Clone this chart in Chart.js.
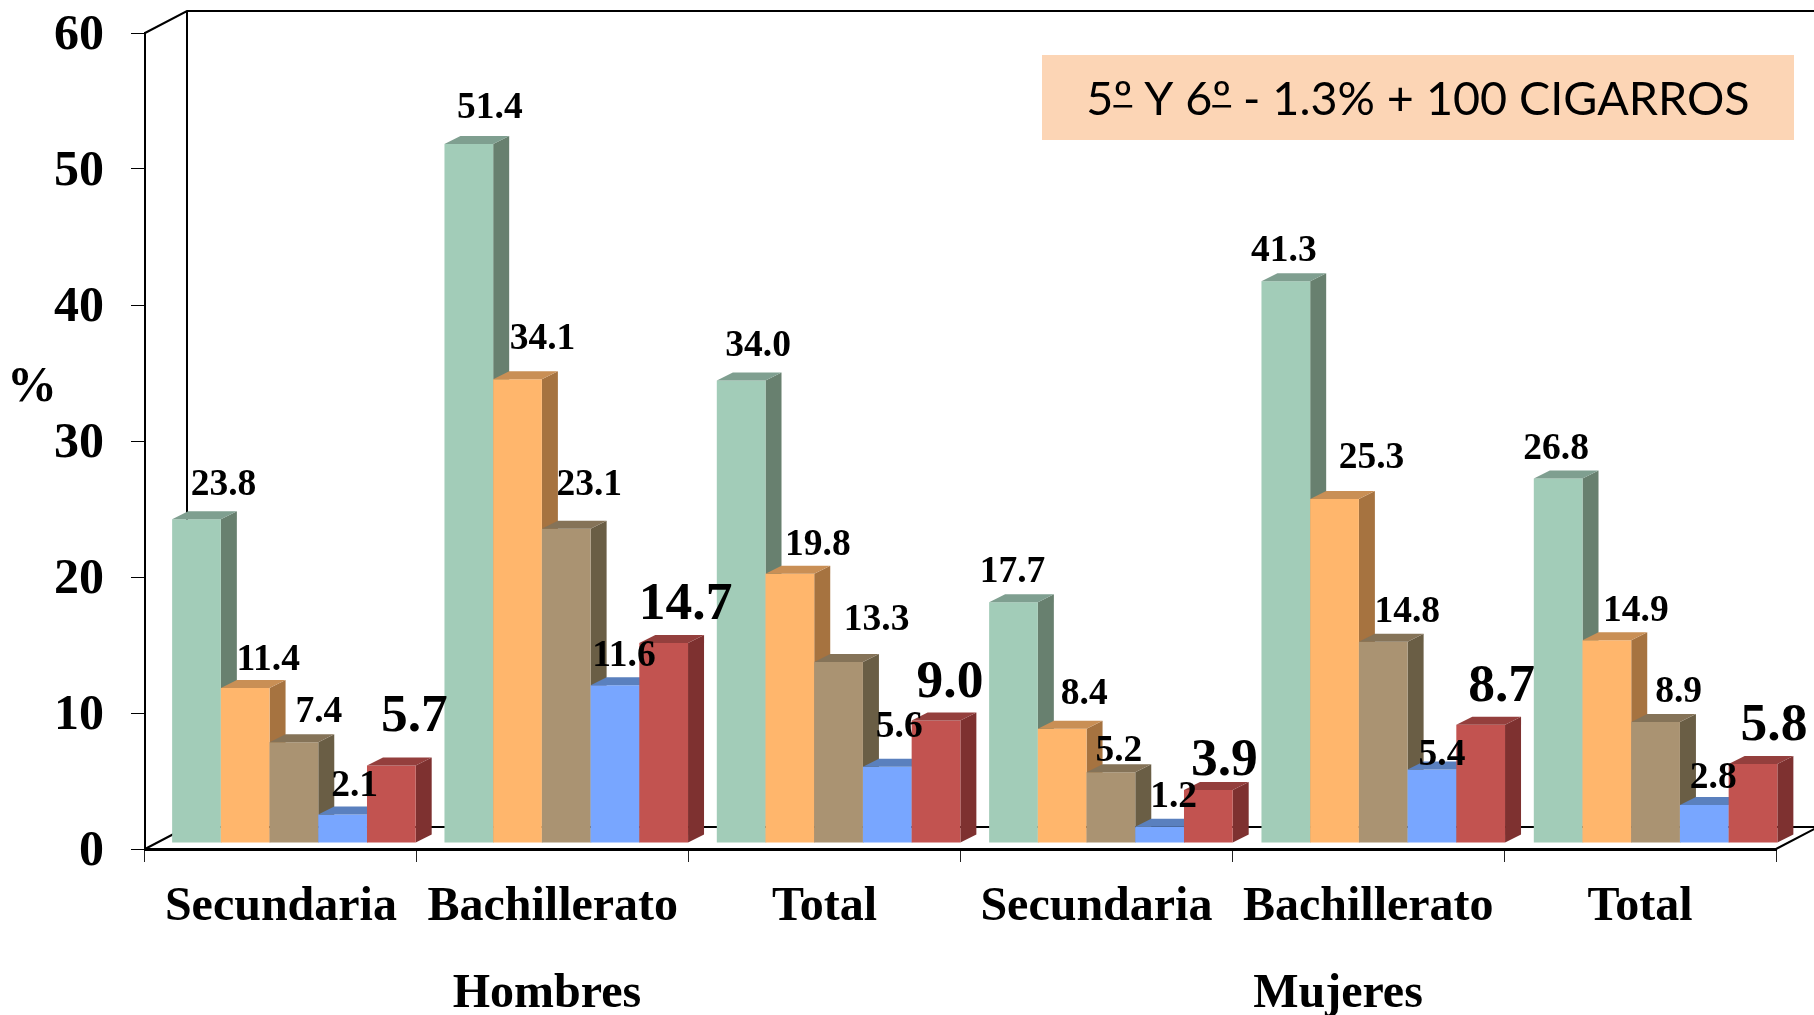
<!DOCTYPE html>
<html>
<head>
<meta charset="utf-8">
<script src="https://cdn.jsdelivr.net/npm/chart.js@4"></script>
<style>
    html, body { margin: 0; padding: 0; background: #fff; overflow: hidden; }
    canvas { display: block; }
</style>
</head>
<body>
<canvas id="chart" width="1814" height="1015"></canvas>
<script>
// Chart data
const categories = ['Secundaria', 'Bachillerato', 'Total', 'Secundaria', 'Bachillerato', 'Total'];
const yTicks = [0, 10, 20, 30, 40, 50, 60];
const seriesA = [23.8, 51.4, 34.0, 17.7, 41.3, 26.8];
const seriesB = [11.4, 34.1, 19.8, 8.4, 25.3, 14.9];
const seriesC = [7.4, 23.1, 13.3, 5.2, 14.8, 8.9];
const seriesD = [2.1, 11.6, 5.6, 1.2, 5.4, 2.8];
const seriesE = [5.7, 14.7, 9.0, 3.9, 8.7, 5.8];
const groupLabels = ['Hombres', 'Mujeres'];
const noteText = '5º Y 6º - 1.3% + 100 CIGARROS';

// front, top, side colour of each series
const colors = [
    ['#A2CCB8', '#7F9F90', '#68806F'],
    ['#FFB66C', '#C98F55', '#A67340'],
    ['#AA9372', '#857358', '#6A5E45'],
    ['#78A6FF', '#5A80BE', '#4F70AA'],
    ['#C25350', '#943F3D', '#7E3130']
];

// label offsets from the bar's top centre, the original labels were placed by hand
const labelOffsets = [
    [[27, -34], [21, -36], [17, -34], [-1, -30], [-2, -30], [-2, -29]],
    [[23, -28], [25, -40], [28, -28], [22, -34], [37, -41], [29, -29]],
    [[25, -30], [23, -44], [38, -42], [8, -21], [24, -29], [23, -30]],
    [[12, -28], [9, -29], [12, -40], [14, -29], [10, -14], [9, -27]],
    [[23, -48], [22, -38], [14, -37], [16, -29], [21, -38], [21, -38]]
];

const serif = '"Liberation Serif", "Times New Roman", serif';
const wallX = 42, wallY = 22;      // depth of the chart box
const barShiftX = 13, barShiftY = -6;  // bars stand inside the box
const sideX = 16, sideY = 8;       // depth of each bar

// groups drift a little to the right along the axis in the original
const shiftFor = i => barShiftX + i * 0.5;

function poly(ctx, color, pts) {
    ctx.fillStyle = color;
    ctx.beginPath();
    pts.forEach((p, i) => i ? ctx.lineTo(p[0], p[1]) : ctx.moveTo(p[0], p[1]));
    ctx.closePath();
    ctx.fill();
}

function drawWalls(chart) {
    const ctx = chart.ctx;
    const a = chart.chartArea;
    ctx.save();
    ctx.strokeStyle = '#000';
    ctx.lineWidth = 2;
    ctx.beginPath();
    ctx.moveTo(a.left, a.top);
    ctx.lineTo(a.left + wallX, a.top - wallY);
    ctx.lineTo(chart.width, a.top - wallY);
    ctx.moveTo(a.left + wallX, a.top - wallY);
    ctx.lineTo(a.left + wallX, a.bottom - wallY);
    ctx.lineTo(chart.width, a.bottom - wallY);
    ctx.moveTo(a.left, a.bottom);
    ctx.lineTo(a.left + wallX, a.bottom - wallY);
    ctx.moveTo(a.right, a.bottom);
    ctx.lineTo(a.right + wallX, a.bottom - wallY);
    ctx.stroke();
    ctx.restore();
}

// bars have to be painted left to right so each one covers the side of the previous
const boxBars = {
    id: 'boxBars',
    beforeDatasetsDraw(chart) {
        const ctx = chart.ctx;
        drawWalls(chart);
        categories.forEach((cat, i) => {
            ctx.save();
            ctx.translate(shiftFor(i), barShiftY);
            colors.forEach((c, d) => {
                const bar = chart.getDatasetMeta(d).data[i];
                const l = bar.x - bar.width / 2, r = bar.x + bar.width / 2;
                poly(ctx, c[2], [[r, bar.y], [r + sideX, bar.y - sideY], [r + sideX, bar.base - sideY], [r, bar.base]]);
                bar.draw(ctx);
                poly(ctx, c[1], [[l, bar.y], [l + sideX, bar.y - sideY], [r + sideX, bar.y - sideY], [r, bar.y]]);
            });
            ctx.restore();
        });

        // value labels go over all the bars
        ctx.save();
        ctx.fillStyle = '#000';
        ctx.textAlign = 'center';
        ctx.textBaseline = 'middle';
        chart.data.datasets.forEach((ds, d) => {
            ctx.font = 'bold ' + (d === 4 ? 53.5 : 37.5) + 'px ' + serif;
            chart.getDatasetMeta(d).data.forEach((bar, i) => {
                const off = labelOffsets[d][i];
                ctx.fillText(ds.data[i].toFixed(1), bar.x + shiftFor(i) + off[0], bar.y + barShiftY + off[1]);
            });
        });
        ctx.restore();
        return false;
    },
    afterDraw(chart) {
        const ctx = chart.ctx;
        ctx.save();
        ctx.fillStyle = '#000';
        ctx.textBaseline = 'middle';

        // y labels sit a bit below their ticks, the scale can't offset them
        ctx.textAlign = 'right';
        ctx.font = 'bold 50px ' + serif;
        yTicks.forEach(v => ctx.fillText(String(v), 104, chart.scales.y.getPixelForValue(v) + 3));

        ctx.textAlign = 'center';
        ctx.fillText('%', 32, 388);

        ctx.font = 'bold 48px ' + serif;
        ctx.fillText(groupLabels[0], 547, 995);
        ctx.fillText(groupLabels[1], 1338, 995);

        ctx.fillStyle = '#FCD5B5';
        ctx.fillRect(1042, 55, 752, 85);
        ctx.fillStyle = '#000';
        ctx.font = '46.7px Lato, "Open Sans", sans-serif';
        ctx.fillText(noteText, 1418, 100);

        // the ordinals are underlined in the original font
        const startX = 1418 - ctx.measureText(noteText).width / 2;
        [...noteText].forEach((ch, k) => {
            if (ch === 'º') {
                ctx.fillRect(startX + ctx.measureText(noteText.slice(0, k)).width, 105, ctx.measureText(ch).width, 2.5);
            }
        });
        ctx.restore();
    }
};

const chart = new Chart(document.getElementById('chart').getContext('2d'), {
    type: 'bar',
    data: {
        labels: categories,
        datasets: [seriesA, seriesB, seriesC, seriesD, seriesE].map((s, d) => ({
            data: s,
            backgroundColor: colors[d][0],
            borderWidth: 0,
            barPercentage: 1,
            categoryPercentage: 0.896
        }))
    },
    options: {
        responsive: false,
        animation: false,
        layout: { padding: { top: 33, right: 38, left: 0, bottom: 0 } },
        plugins: { legend: { display: false }, tooltip: { enabled: false }, title: { display: false } },
        scales: {
            x: {
                afterFit: s => { s.height = 166; s.paddingLeft = 0; s.paddingRight = 0; },
                border: { color: '#000', width: 3 },
                grid: { offset: true, drawOnChartArea: false, drawTicks: true, tickLength: 13, color: '#222', lineWidth: 1 },
                ticks: { color: '#000', font: { family: serif, size: 48, weight: 'bold' }, padding: 17, maxRotation: 0, autoSkip: false }
            },
            y: {
                min: 0,
                max: 60,
                afterFit: s => { s.width = 145; s.paddingTop = 0; s.paddingBottom = 0; },
                afterBuildTicks: s => { s.ticks = yTicks.map(v => ({ value: v })); },
                border: { color: '#000', width: 2 },
                grid: { drawOnChartArea: false, drawTicks: true, tickLength: 14, color: '#000', lineWidth: 1 },
                ticks: { display: false }
            }
        }
    },
    plugins: [boxBars]
});
</script>
</body>
</html>
